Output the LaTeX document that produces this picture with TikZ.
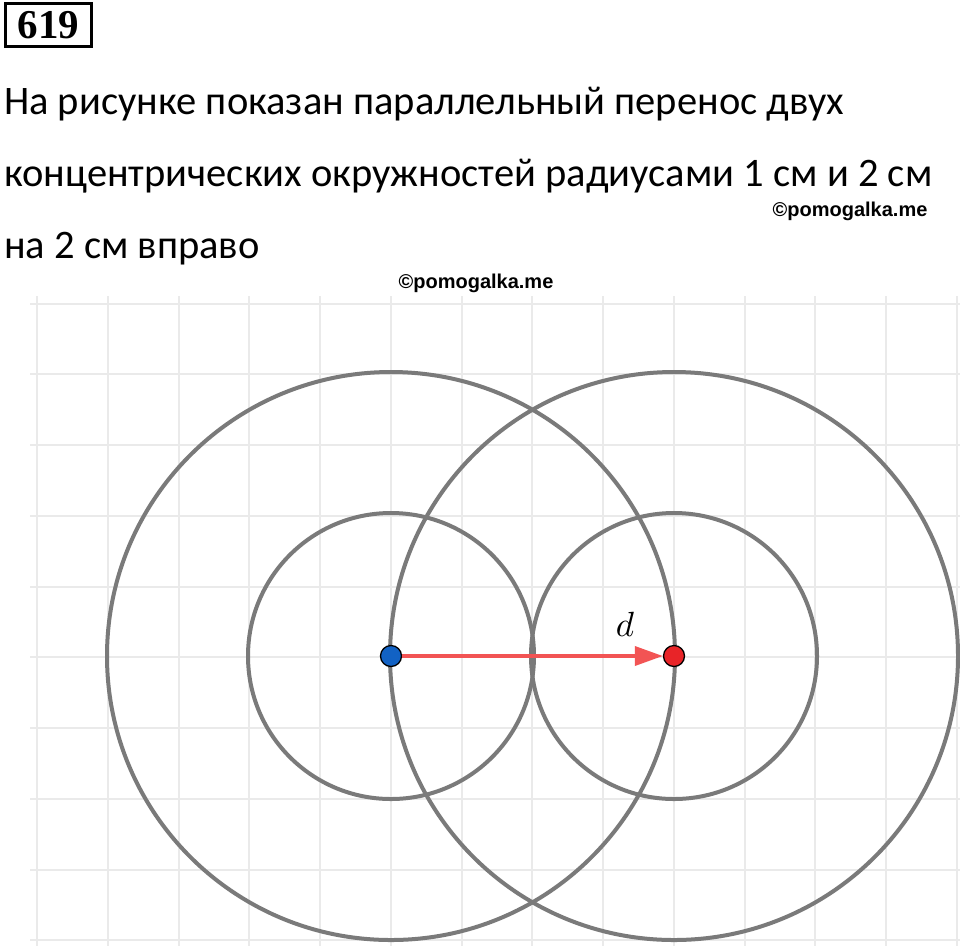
\documentclass[tikz,border=0pt]{standalone}
\usepackage{fontspec}
\setmainfont{Carlito}
\newfontfamily\numfont{Liberation Serif}
\newfontfamily\wmfont{Liberation Sans}
\usetikzlibrary{arrows.meta}
\definecolor{gridc}{RGB}{234,234,234}
\definecolor{circc}{RGB}{122,122,122}
\definecolor{arrc}{RGB}{242,84,84}
\definecolor{bluep}{RGB}{18,98,196}
\definecolor{redp}{RGB}{232,36,40}
\tikzset{
  gridline/.style={gridc, line width=2pt},
  circline/.style={circc, line width=4pt},
  ptnode/.style={circle, draw=black, line width=1.3pt, minimum size=21pt, inner sep=0pt},
  txt/.style={anchor=base west, inner sep=0pt, font=\fontsize{40.5}{40.5}\selectfont},
  wm/.style={inner sep=0pt, font=\wmfont\bfseries\fontsize{20}{20}\selectfont}
}
\begin{document}
\begin{tikzpicture}[x=1pt,y=-1pt]
\useasboundingbox (0,0) rectangle (960,946);
\fill[white] (0,0) rectangle (960,946);
% grid
\foreach \x in {37,107.75,...,960} \draw[gridline] (\x,296) -- (\x,946);
\foreach \y in {303.5,374.25,...,946} \draw[gridline] (30,\y) -- (960,\y);
% title
\node[draw=black, line width=2.8pt, inner sep=0pt, minimum width=86pt, minimum height=43pt, font=\numfont\bfseries\fontsize{41}{41}\selectfont] (num) at (48.5,25) {619};
\node[txt] (l1) at (4,114) {На рисунке показан параллельный перенос двух};
\node[txt] (l2) at (4,186) {концентрических окружностей радиусами 1 см и 2 см};
\node[txt] (l3) at (4,258) {на 2 см вправо};
\node[wm] (wm1) at (850,211) {©pomogalka.me};
\node[wm] (wm2) at (476,283) {©pomogalka.me};
% circles
\coordinate (A) at (391,656);
\coordinate (B) at (674,656);
\draw[circline] (A) circle[radius=284];
\draw[circline] (A) circle[radius=143];
\draw[circline] (B) circle[radius=284];
\draw[circline] (B) circle[radius=143];
\node[ptnode, fill=bluep] (P) at (A) {};
\node[ptnode, fill=redp] (Q) at (B) {};
\draw[arrc, line width=3.6pt, -{Triangle[length=28pt,width=19pt]}] (P) -- (Q);
\node[inner sep=0pt] (d) at (625,624) {\scalebox{3.5}{$d$}};
\end{tikzpicture}
\end{document}
